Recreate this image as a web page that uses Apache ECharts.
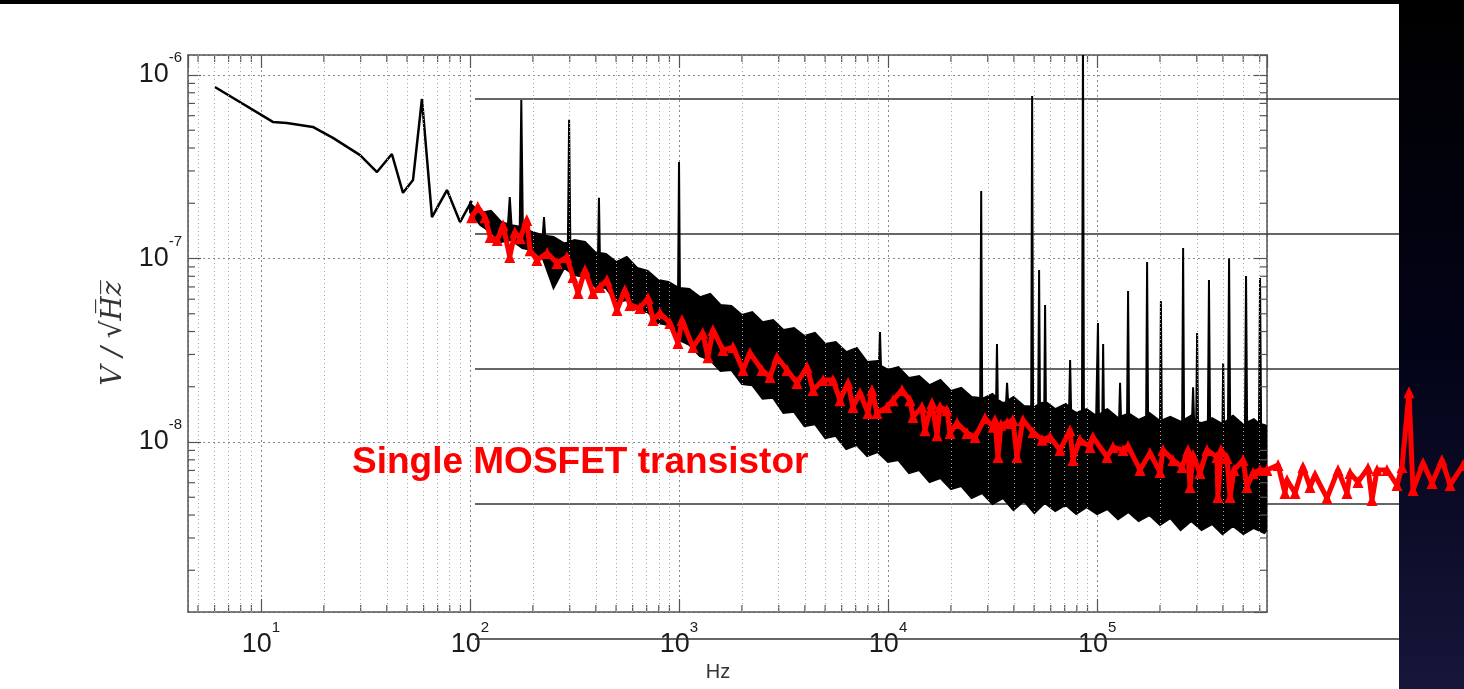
<!DOCTYPE html>
<html>
<head>
<meta charset="utf-8">
<script src="https://cdn.jsdelivr.net/npm/echarts@6/dist/echarts.min.js"></script>
<style>
html, body { margin: 0; padding: 0; }
body {
  width: 1464px; height: 689px; overflow: hidden;
  background:
    linear-gradient(to right, #fff 0, #fff 1399px, transparent 1399px) 0 4px / 100% 685px no-repeat,
    linear-gradient(#000 0%, #04041a 55%, #16163a 100%);
}
#main { width: 1464px; height: 689px; }
</style>
</head>
<body>
<div id="main"></div>
<script>
// low frequency part of the measured spectrum (Hz, V/sqrt(Hz))
const lowFreq = [6.02, 11.4, 13.3, 17.7, 22.1, 29.8, 35.9, 42.3, 47.8, 53.4, 58.9, 65.8, 77.6, 89.6, 102];
const lowVal = [8.6e-7, 5.55e-7, 5.47e-7, 5.21e-7, 4.54e-7, 3.66e-7, 2.96e-7, 3.71e-7, 2.28e-7, 2.68e-7, 7.4e-7, 1.68e-7, 2.36e-7, 1.58e-7, 2.06e-7];

// noise band above 100 Hz: upper edge (with the line spikes) and lower edge
const bandTopFreq = [100, 112, 126, 141, 152, 155, 158, 173, 176, 179, 200, 223, 226, 229, 251, 282, 294, 298, 302, 316, 355, 398, 410, 414, 418, 447, 501, 562, 631, 708, 794, 891,
  990, 1000, 1010, 1120, 1260, 1410, 1580, 1780, 2000, 2240, 2510, 2820, 3160, 3550, 3980, 4470, 5010, 5620, 6310, 7080, 7940, 8910, 9050, 9150, 9250,
  10000, 11200, 12600, 14100, 15800, 17800, 20000, 22400, 25100, 27600, 27900, 28200, 31600, 32900, 33200, 33500, 35500, 36700, 37100, 37500, 39800, 44700,
  48400, 48900, 49400, 50100, 52300, 52800, 53300, 55900, 56400, 56900, 63100, 70800, 73500, 74300, 75100, 79400, 84700, 85600, 86500, 89100,
  99000, 101000, 102000, 106000, 106900, 107800, 112000, 126000, 127500, 128800, 130100, 139200, 140700, 142200, 158000, 171700, 173500, 175300, 178000,
  200000, 202000, 204000, 224000, 251000, 255300, 258000, 260700, 282000, 285000, 288000, 291000, 298000, 301000, 304000, 316000, 339000, 343000, 347000,
  355000, 398000, 401000, 405000, 423000, 428000, 433000, 447000, 501000, 510000, 516000, 522000, 562000, 595000, 602000, 609000, 631000, 650000];
const bandTopVal = [2.0e-7, 1.77e-7, 1.82e-7, 1.58e-7, 1.54e-7, 2.16e-7, 1.52e-7, 1.49e-7, 7.3e-7, 1.46e-7, 1.39e-7, 1.34e-7, 1.68e-7, 1.33e-7, 1.31e-7, 1.21e-7, 1.22e-7, 5.7e-7, 1.23e-7, 1.26e-7, 1.23e-7, 1.08e-7, 1.07e-7, 2.14e-7, 1.07e-7, 1.06e-7, 9.56e-8, 1.02e-7, 8.88e-8, 8.55e-8, 7.64e-8, 7.44e-8,
  6.95e-8, 3.36e-7, 6.9e-8, 6.82e-8, 6.16e-8, 6.41e-8, 5.58e-8, 5.51e-8, 4.92e-8, 5.1e-8, 4.5e-8, 4.62e-8, 4.08e-8, 4.18e-8, 3.78e-8, 3.93e-8, 3.42e-8, 3.5e-8, 3.09e-8, 3.25e-8, 2.73e-8, 2.76e-8, 2.7e-8, 3.97e-8, 2.6e-8,
  2.47e-8, 2.56e-8, 2.23e-8, 2.29e-8, 2.04e-8, 2.18e-8, 1.9e-8, 1.97e-8, 1.76e-8, 1.74e-8, 2.33e-7, 1.72e-8, 1.83e-8, 1.75e-8, 3.42e-8, 1.7e-8, 1.63e-8, 1.65e-8, 2.1e-8, 1.68e-8, 1.76e-8, 1.57e-8,
  1.56e-8, 7.68e-7, 1.56e-8, 1.55e-8, 1.6e-8, 8.65e-8, 1.62e-8, 1.64e-8, 5.58e-8, 1.65e-8, 1.51e-8, 1.61e-8, 1.55e-8, 2.8e-8, 1.5e-8, 1.44e-8, 1.48e-8, 1.6e-6, 1.49e-8, 1.51e-8,
  1.39e-8, 4.45e-8, 1.4e-8, 1.45e-8, 3.42e-8, 1.48e-8, 1.51e-8, 1.35e-8, 1.36e-8, 2.1e-8, 1.38e-8, 1.42e-8, 6.65e-8, 1.43e-8, 1.32e-8, 1.38e-8, 9.56e-8, 1.42e-8, 1.44e-8,
  1.3e-8, 5.87e-8, 1.31e-8, 1.37e-8, 1.29e-8, 1.3e-8, 1.14e-7, 1.32e-8, 1.39e-8, 1.38e-8, 1.99e-8, 1.34e-8, 1.3e-8, 3.93e-8, 1.28e-8, 1.27e-8, 1.3e-8, 7.64e-8, 1.33e-8,
  1.35e-8, 1.25e-8, 2.69e-8, 1.27e-8, 1.32e-8, 1.0e-7, 1.36e-8, 1.39e-8, 1.24e-8, 1.26e-8, 8.03e-8, 1.28e-8, 1.33e-8, 1.26e-8, 7.83e-8, 1.25e-8, 1.24e-8, 1.22e-8];
const bandBotFreq = [100, 112, 126, 141, 158, 178, 200, 224, 251, 282, 316, 355, 398, 447, 501, 562, 631, 708, 794, 891,
  1000, 1120, 1260, 1410, 1580, 1780, 2000, 2240, 2510, 2820, 3160, 3550, 3980, 4470, 5010, 5620, 6310, 7080, 7940, 8910,
  10000, 11200, 12600, 14100, 15800, 17800, 20000, 22400, 25100, 28200, 31600, 35500, 39800, 44700, 50100, 56200, 63100, 70800, 79400, 89100,
  100000, 112000, 126000, 141000, 158000, 178000, 200000, 224000, 251000, 282000, 316000, 355000, 398000, 447000, 501000, 562000, 631000, 650000];
const bandBotVal = [1.79e-7, 1.52e-7, 1.39e-7, 1.23e-7, 1.26e-7, 1.14e-7, 1.11e-7, 9.9e-8, 6.9e-8, 8.88e-8, 8.13e-8, 7.92e-8, 6.99e-8, 6.9e-8, 5.79e-8, 5.94e-8, 5.24e-8, 5.1e-8, 4.45e-8, 4.34e-8,
  3.6e-8, 3.38e-8, 2.94e-8, 2.8e-8, 2.44e-8, 2.47e-8, 2.07e-8, 2.04e-8, 1.72e-8, 1.74e-8, 1.44e-8, 1.46e-8, 1.22e-8, 1.25e-8, 1.05e-8, 1.08e-8, 9.16e-9, 9.62e-9, 8.39e-9, 8.82e-9,
  7.78e-9, 7.98e-9, 6.78e-9, 7.04e-9, 6.05e-9, 6.37e-9, 5.54e-9, 5.76e-9, 4.95e-9, 5.27e-9, 4.59e-9, 4.95e-9, 4.26e-9, 4.77e-9, 4.1e-9, 4.65e-9, 4.21e-9, 4.54e-9, 4.05e-9, 4.42e-9,
  4.05e-9, 4.31e-9, 3.8e-9, 4.15e-9, 3.71e-9, 4.0e-9, 3.53e-9, 3.85e-9, 3.31e-9, 3.71e-9, 3.31e-9, 3.57e-9, 3.15e-9, 3.49e-9, 3.15e-9, 3.4e-9, 3.19e-9, 3.31e-9];

// single MOSFET transistor curve (red)
const redFreq = [102, 109, 118, 125, 135, 144, 155, 164, 174, 187, 194, 209, 234, 261, 291, 311, 329, 355, 388, 419, 452, 505, 551, 583, 650, 711, 751, 811, 905, 989,
  1034, 1167, 1300, 1376, 1454, 1624, 1813, 2024, 2186, 2495, 2725, 2944, 3290, 3670, 4100, 4380, 4890, 5460, 5890, 6440, 6800, 7350, 8020, 8380, 8860, 9890,
  10570, 11670, 12740, 13170, 14540, 15020, 16240, 17160, 17730, 19160, 19800, 21400, 23870, 26100, 29100, 31800, 32500, 33600, 34700, 37100, 39600, 41400, 44200, 49400,
  54600, 59600, 66500, 74300, 76700, 82900, 92600, 95600,
  111700, 119300, 133200, 140700, 160600, 179300, 200200, 206900, 231000, 255100, 272500, 278600, 288000, 311000, 336000, 375000, 379000, 392000, 419000, 433000,
  452000, 500000, 522000, 558000, 602000, 650000, 735000, 793000, 811000, 886000, 967000,
  1045000, 1104000, 1260000, 1423000, 1571000, 1624000, 1773000, 1980000, 2069000, 2186000, 2440000, 2725000, 2880000, 3110000, 3250000, 3630000, 4010000, 4470000, 4890000, 5640000];
const redVal = [1.68e-7, 1.91e-7, 1.68e-7, 1.31e-7, 1.26e-7, 1.52e-7, 1.02e-7, 1.39e-7, 1.29e-7, 1.62e-7, 1.11e-7, 9.8e-8, 1.07e-7, 9.45e-8, 1.02e-7, 7.92e-8, 6.48e-8, 8.65e-8, 6.48e-8, 6.99e-8, 7.64e-8, 5.24e-8, 6.73e-8, 5.58e-8, 5.37e-8, 6.09e-8, 4.62e-8, 5.05e-8, 4.45e-8, 3.46e-8,
  4.62e-8, 3.29e-8, 3.93e-8, 2.9e-8, 4.08e-8, 3.17e-8, 3.29e-8, 2.47e-8, 3.06e-8, 2.47e-8, 2.26e-8, 2.9e-8, 2.47e-8, 2.1e-8, 2.56e-8, 1.92e-8, 2.18e-8, 2.18e-8, 1.69e-8, 2.1e-8, 1.55e-8, 1.85e-8, 1.44e-8, 1.92e-8, 1.44e-8, 1.55e-8,
  1.69e-8, 1.92e-8, 1.69e-8, 1.37e-8, 1.55e-8, 1.16e-8, 1.63e-8, 1.09e-8, 1.55e-8, 1.49e-8, 1.12e-8, 1.27e-8, 1.12e-8, 1.065e-8, 1.35e-8, 1.21e-8, 1.32e-8, 8.28e-9, 1.24e-8, 1.27e-8, 1.32e-8, 8.28e-9, 1.32e-8, 1.13e-8,
  1.03e-8, 1.065e-8, 9.04e-9, 1.16e-8, 7.98e-9, 1.03e-8, 9.39e-9, 1.065e-8,
  8.28e-9, 9.39e-9, 9.04e-9, 9.51e-9, 7.04e-9, 8.71e-9, 6.86e-9, 9.04e-9, 7.98e-9, 7.31e-9, 9.04e-9, 5.69e-9, 8.5e-9, 6.78e-9, 9.04e-9, 8.28e-9, 5.01e-9, 9.04e-9, 8.18e-9, 5.01e-9,
  7.04e-9, 7.98e-9, 5.69e-9, 6.78e-9, 7.04e-9, 7.04e-9, 7.49e-9, 5.27e-9, 6.21e-9, 5.27e-9, 7.31e-9,
  5.69e-9, 6.61e-9, 4.95e-9, 7.04e-9, 5.27e-9, 6.78e-9, 6.05e-9, 7.22e-9, 4.83e-9, 7.04e-9, 7.04e-9, 5.83e-9, 7.31e-9, 1.87e-8, 5.47e-9, 7.68e-9, 5.98e-9, 7.98e-9, 5.83e-9, 7.49e-9];

// minor grid / tick positions (2..9 of every decade)
const xMinorTicks = [5, 6, 7, 8, 9, 20, 30, 40, 50, 60, 70, 80, 90, 200, 300, 400, 500, 600, 700, 800, 900,
  2000, 3000, 4000, 5000, 6000, 7000, 8000, 9000, 20000, 30000, 40000, 50000, 60000, 70000, 80000, 90000,
  200000, 300000, 400000, 500000, 600000];
const yMinorTicks = [2e-9, 3e-9, 4e-9, 5e-9, 6e-9, 7e-9, 8e-9, 9e-9, 2e-8, 3e-8, 4e-8, 5e-8, 6e-8, 7e-8, 8e-8, 9e-8,
  2e-7, 3e-7, 4e-7, 5e-7, 6e-7, 7e-7, 8e-7, 9e-7];

const xMin = 4.477, xMax = 6.5e5, xMaxWide = 5.7e6;
const yMin = 1.185e-9, yMax = 1.285e-6;

const FONT = '"Liberation Sans", Arial, sans-serif';
const frameColor = '#555';

function powLabel(v) {
  const e = Math.round(Math.log10(v));
  return '{b|10}{s|' + e + '}';
}
const powRich = {
  b: { fontSize: 27, fontFamily: FONT, color: '#1a1a1a' },
  s: { fontSize: 15, fontFamily: FONT, color: '#1a1a1a', padding: [0, 0, 34, 0] }
};

const myChart = echarts.init(document.getElementById('main'), null, { renderer: 'canvas' });

const frameAxis = {
  axisLine: { show: true, lineStyle: { color: frameColor, width: 1.5 } },
  axisTick: { show: true, inside: true, length: 13, lineStyle: { color: frameColor, width: 1.2 } },
  axisLabel: { show: false },
  splitLine: { show: false }
};

const redData = redFreq.map((f, i) => [f, redVal[i]]);

myChart.setOption({
  animation: false,
  backgroundColor: 'transparent',
  grid: [
    { left: 188, top: 55, width: 1079, height: 557 },
    { left: 188, top: 55, width: 1276, height: 557 }
  ],
  xAxis: [
    {
      type: 'log', gridIndex: 0, position: 'bottom', min: xMin, max: xMax,
      axisLine: { show: true, lineStyle: { color: frameColor, width: 1.5 } },
      axisTick: { show: true, inside: true, length: 13, lineStyle: { color: frameColor, width: 1.2 } },
      axisLabel: { formatter: powLabel, rich: powRich, margin: 8, showMinLabel: false, showMaxLabel: false },
      splitLine: { show: true, lineStyle: { color: '#888', type: [2, 3], width: 1 } },
      name: 'Hz', nameLocation: 'middle', nameGap: 47,
      nameTextStyle: { fontFamily: FONT, fontSize: 20, color: '#333', padding: [0, 19, 0, 0] }
    },
    Object.assign({ type: 'log', gridIndex: 0, position: 'top', min: xMin, max: xMax }, frameAxis),
    { type: 'log', gridIndex: 1, min: xMin, max: xMaxWide, show: false }
  ],
  yAxis: [
    {
      type: 'log', gridIndex: 0, position: 'left', min: yMin, max: yMax,
      axisLine: { show: true, lineStyle: { color: frameColor, width: 1.5 } },
      axisTick: { show: true, inside: true, length: 13, lineStyle: { color: frameColor, width: 1.2 } },
      axisLabel: { formatter: powLabel, rich: powRich, margin: 6, showMinLabel: false, showMaxLabel: false },
      splitLine: { show: true, lineStyle: { color: '#888', type: [2, 3], width: 1 } },
      name: 'V / \u221AH\u0305z\u0305', nameLocation: 'middle', nameGap: 56, nameRotate: 90,
      nameTextStyle: { fontFamily: '"DejaVu Serif", "Liberation Serif", serif', fontStyle: 'italic', fontSize: 28, color: '#333' }
    },
    Object.assign({ type: 'log', gridIndex: 0, position: 'right', min: yMin, max: yMax }, frameAxis),
    { type: 'log', gridIndex: 1, min: yMin, max: yMax, show: false }
  ],
  graphic: [
    { type: 'line', z: 1, shape: { x1: 475, y1: 99, x2: 1399, y2: 99 }, style: { stroke: '#333', lineWidth: 1.5 } },
    { type: 'line', z: 1, shape: { x1: 475, y1: 234, x2: 1399, y2: 234 }, style: { stroke: '#333', lineWidth: 1.5 } },
    { type: 'line', z: 1, shape: { x1: 475, y1: 369, x2: 1399, y2: 369 }, style: { stroke: '#333', lineWidth: 1.5 } },
    { type: 'line', z: 1, shape: { x1: 475, y1: 504, x2: 1399, y2: 504 }, style: { stroke: '#333', lineWidth: 1.5 } },
    { type: 'line', z: 1, shape: { x1: 475, y1: 639, x2: 1399, y2: 639 }, style: { stroke: '#333', lineWidth: 1.5 } },
    {
      type: 'text', z: 20, x: 352, y: 463,
      style: { text: 'Single MOSFET transistor', font: 'bold 37px ' + FONT, fill: '#ff0000', verticalAlign: 'middle', align: 'left' }
    }
  ],
  series: [
    {
      // minor vertical grid
      type: 'line', xAxisIndex: 0, yAxisIndex: 0, data: [], silent: true,
      markLine: {
        silent: true, symbol: ['none', 'none'], label: { show: false }, animation: false,
        lineStyle: { color: '#a8a8a8', type: [1, 3], width: 1 },
        data: xMinorTicks.map(v => ({ xAxis: v }))
      }
    },
    {
      // minor horizontal grid
      type: 'line', xAxisIndex: 0, yAxisIndex: 0, data: [], silent: true,
      markLine: {
        silent: true, symbol: ['none', 'none'], label: { show: false }, animation: false,
        lineStyle: { color: '#a8a8a8', type: [1, 3], width: 1 },
        data: yMinorTicks.map(v => ({ yAxis: v }))
      }
    },
    {
      // minor ticks on all four sides of the box
      type: 'custom', xAxisIndex: 0, yAxisIndex: 0, silent: true, z: 4,
      data: [[10, 1e-8]],
      renderItem: function (params, api) {
        const kids = [];
        const st = { stroke: frameColor, lineWidth: 1.2 };
        xMinorTicks.forEach(v => {
          const b = api.coord([v, yMin]), t = api.coord([v, yMax]);
          kids.push({ type: 'line', shape: { x1: b[0], y1: b[1], x2: b[0], y2: b[1] - 7 }, style: st });
          kids.push({ type: 'line', shape: { x1: t[0], y1: t[1], x2: t[0], y2: t[1] + 7 }, style: st });
        });
        yMinorTicks.forEach(v => {
          const l = api.coord([xMin, v]), r = api.coord([xMax, v]);
          kids.push({ type: 'line', shape: { x1: l[0], y1: l[1], x2: l[0] + 7, y2: l[1] }, style: st });
          kids.push({ type: 'line', shape: { x1: r[0], y1: r[1], x2: r[0] - 7, y2: r[1] }, style: st });
        });
        return { type: 'group', children: kids };
      }
    },
    {
      name: 'spectrum low', type: 'line', xAxisIndex: 0, yAxisIndex: 0, z: 3,
      data: lowFreq.map((f, i) => [f, lowVal[i]]),
      showSymbol: false, lineStyle: { color: '#000', width: 2.5 }
    },
    {
      name: 'spectrum band', type: 'custom', xAxisIndex: 0, yAxisIndex: 0, z: 3, clip: true, silent: true,
      data: [[bandTopFreq[0], bandTopVal[0]]],
      renderItem: function (params, api) {
        const pts = [];
        for (let i = 0; i < bandTopFreq.length; i++) pts.push(api.coord([bandTopFreq[i], bandTopVal[i]]));
        for (let i = bandBotFreq.length - 1; i >= 0; i--) pts.push(api.coord([bandBotFreq[i], bandBotVal[i]]));
        return { type: 'polygon', shape: { points: pts }, style: { fill: '#000', stroke: '#000', lineWidth: 2, lineJoin: 'miter', miterLimit: 3 } };
      }
    },
    {
      name: 'Single MOSFET transistor', type: 'line', xAxisIndex: 2, yAxisIndex: 2, z: 5,
      data: redData, showSymbol: false,
      lineStyle: { color: '#ff0000', width: 5, join: 'round', cap: 'round' }
    },
    {
      // triangle markers on every point of the red curve
      type: 'scatter', xAxisIndex: 2, yAxisIndex: 2, z: 6, silent: true,
      data: redData, symbol: 'triangle', symbolSize: [11, 12],
      itemStyle: { color: '#ff0000', opacity: 1 }
    }
  ]
});
</script>
</body>
</html>
